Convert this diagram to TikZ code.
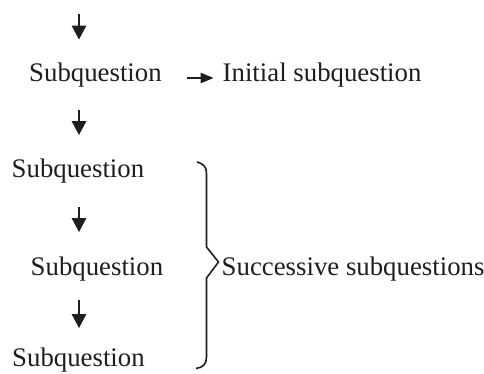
\documentclass[tikz,border=0pt]{standalone}
\usepackage{fontspec}
\setmainfont{Liberation Serif}
\usetikzlibrary{arrows.meta}
\definecolor{ink}{HTML}{1E1E1E}
\begin{document}
\begin{tikzpicture}[x=1pt,y=-1pt,
  lbl/.style={inner sep=0pt,anchor=base west,text=ink,font=\fontsize{26.8}{30}\selectfont},
  varrow/.style={draw=ink,line width=1.3pt,-{Triangle[length=14pt,width=14.6pt]}},
  harrow/.style={draw=ink,line width=1.3pt,-{Triangle[length=13pt,width=10.5pt]}},
  brace/.style={draw=ink,line width=1.6pt,line join=miter}]
\useasboundingbox (0,0) rectangle (484,373);
% labels
\node[lbl] (s1) at (29,81) {Subquestion};
\node[lbl] (init) at (222.5,81) {Initial subquestion};
\node[lbl] (s2) at (11.5,177) {Subquestion};
\node[lbl] (s3) at (30.5,275) {Subquestion};
\node[lbl] (s4) at (12,366.5) {Subquestion};
\node[lbl] (succ) at (221.5,275) {Successive subquestions};
% arrow endpoints
\coordinate (a0s) at (79,14);
\coordinate (a0e) at (79,39.5);
\coordinate (a1s) at (79,110);
\coordinate (a1e) at (79,135);
\coordinate (a2s) at (79,207);
\coordinate (a2e) at (79,232);
\coordinate (a3s) at (79,300);
\coordinate (a3e) at (79,328);
\coordinate (hs) at (187,78);
\coordinate (he) at (213.5,78);
\draw[varrow] (a0s) -- (a0e);
\draw[varrow] (a1s) -- (a1e);
\draw[varrow] (a2s) -- (a2e);
\draw[varrow] (a3s) -- (a3e);
\draw[harrow] (hs) -- (he);
% brace
\coordinate (bt) at (197,162);
\coordinate (tip) at (218.5,262);
\coordinate (bb) at (196,368.5);
\draw[brace] (bt) .. controls (204,164) and (206.5,167) .. (206.5,174)
  -- (206.5,247) -- (tip) -- (206.5,278) -- (206.5,357)
  .. controls (206.5,364) and (203,367.5) .. (bb);
\end{tikzpicture}
\end{document}
